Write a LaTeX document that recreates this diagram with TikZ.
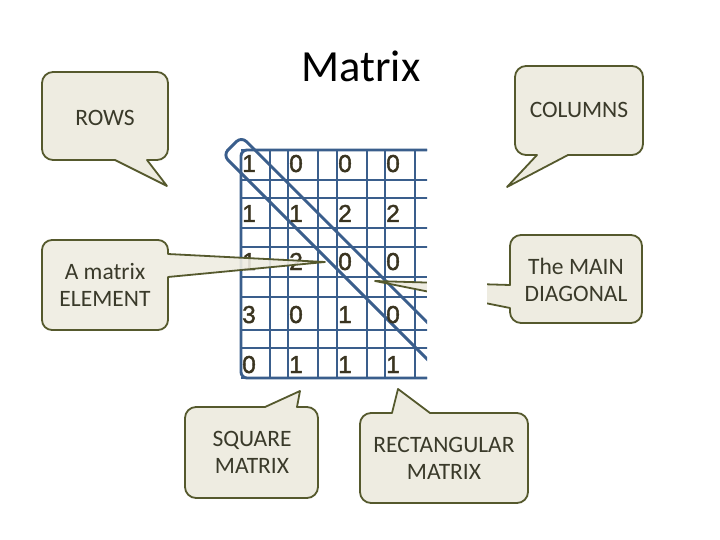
\documentclass[tikz,border=0pt]{standalone}
\usepackage{fontspec}
\setmainfont{Carlito}
\newfontface\arialfont{Liberation Sans}[FakeBold=1.6]
\definecolor{gridblue}{HTML}{3A5E8C}
\definecolor{calfill}{HTML}{EEECE1}
\definecolor{caledge}{HTML}{55592D}
\definecolor{caltext}{HTML}{3A3A2A}
\definecolor{digitcol}{HTML}{3A3420}
\begin{document}
\begin{tikzpicture}[x=1pt,y=-1pt,
  callout/.style={fill=calfill, draw=caledge, line width=1.8pt, line join=round},
  gl/.style={draw=gridblue, line width=2.9pt},
  lbl/.style={font=\fontsize{23.5}{27}\selectfont, text=caltext, align=center, inner sep=0pt},
  dg/.style={font=\arialfont\fontsize{24.5}{26}\selectfont, text=digitcol, anchor=base west, inner sep=0pt}]
\useasboundingbox (0,0) rectangle (720,540);

% title
\node[font=\fontsize{44.5}{50}\selectfont, text=black] (title) at (361,66) {Matrix};

% matrix grid
\begin{scope}
  \clip (200,120) rectangle (427,395);
  \foreach \y in {150,180,198,228,247,277,297,330,348,378}
    \draw[gl] (241,\y) -- (440,\y);
  \foreach \x in {270,288,318,337,367,385,415}
    \draw[gl] (\x,150) -- (\x,378);
  \draw[gl, rounded corners=6pt] (440,150) -- (241,150) -- (241,378) -- (440,378);
  \draw[gl, rounded corners=7pt] (232.2,145.8) -- (241.4,136.6) -- (524.4,419.6) -- (506,438) -- (223,155) -- cycle;
\end{scope}

% digits
\foreach \r/\yb/\vals in {1/172/{1,0,0,0}, 2/222/{1,1,2,2}, 3/270/{1,2,0,0}, 4/323/{3,0,1,0}, 5/373/{0,1,1,1}} {
  \foreach \v [count=\c] in \vals {
    \pgfmathsetmacro{\xx}{{242,289,338,386}[\c-1]}
    \node[dg] (m\r\c) at (\xx,\yb) {\v};
  }
}

% ROWS
\draw[callout] (105,72) [rounded corners=11pt] -- (168,72) -- (168,160) [sharp corners] -- (147,160) -- (167,186) -- (115,160) [rounded corners=11pt] -- (42,160) -- (42,72) -- cycle;
\node[lbl] (rows) at (105,118) {ROWS};

% COLUMNS
\draw[callout] (579,66) [rounded corners=11pt] -- (643,66) -- (643,155) [sharp corners] -- (568,155) -- (507,187) -- (537,155) [rounded corners=11pt] -- (515,155) -- (515,66) -- cycle;
\node[lbl] (cols) at (579,110) {COLUMNS};

% A matrix ELEMENT
\draw[callout, fill opacity=0.9] (105,240) [rounded corners=10pt] -- (168,240) [sharp corners] -- (168,254) -- (325,262) -- (168,277) [rounded corners=10pt] -- (168,330) -- (42,330) -- (42,240) -- cycle;
\node[lbl] (elem) at (105,285) {A matrix\\ELEMENT};

% The MAIN DIAGONAL
\draw[callout] (576,235) [rounded corners=11pt] -- (642,235) -- (642,323) -- (510,323) [sharp corners] -- (510,308) -- (375,281) -- (510,285) [rounded corners=11pt] -- (510,235) -- cycle;
\fill[white] (427,262) rectangle (487,318);
\node[lbl] (diag) at (576,280) {The MAIN\\DIAGONAL};

% SQUARE MATRIX
\draw[callout] (252,498) [rounded corners=11pt] -- (185,498) -- (185,407) [sharp corners] -- (265,407) -- (300,391) -- (297,407) [rounded corners=11pt] -- (318,407) -- (318,498) -- cycle;
\node[lbl] (sq) at (252,452) {SQUARE\\MATRIX};

% RECTANGULAR MATRIX
\draw[callout] (444,503) [rounded corners=11pt] -- (360,503) -- (360,413) [sharp corners] -- (392,413) -- (398,389) -- (430,413) [rounded corners=11pt] -- (528,413) -- (528,503) -- cycle;
\node[lbl] (rect) at (444,458) {RECTANGULAR\\MATRIX};
\end{tikzpicture}
\end{document}
